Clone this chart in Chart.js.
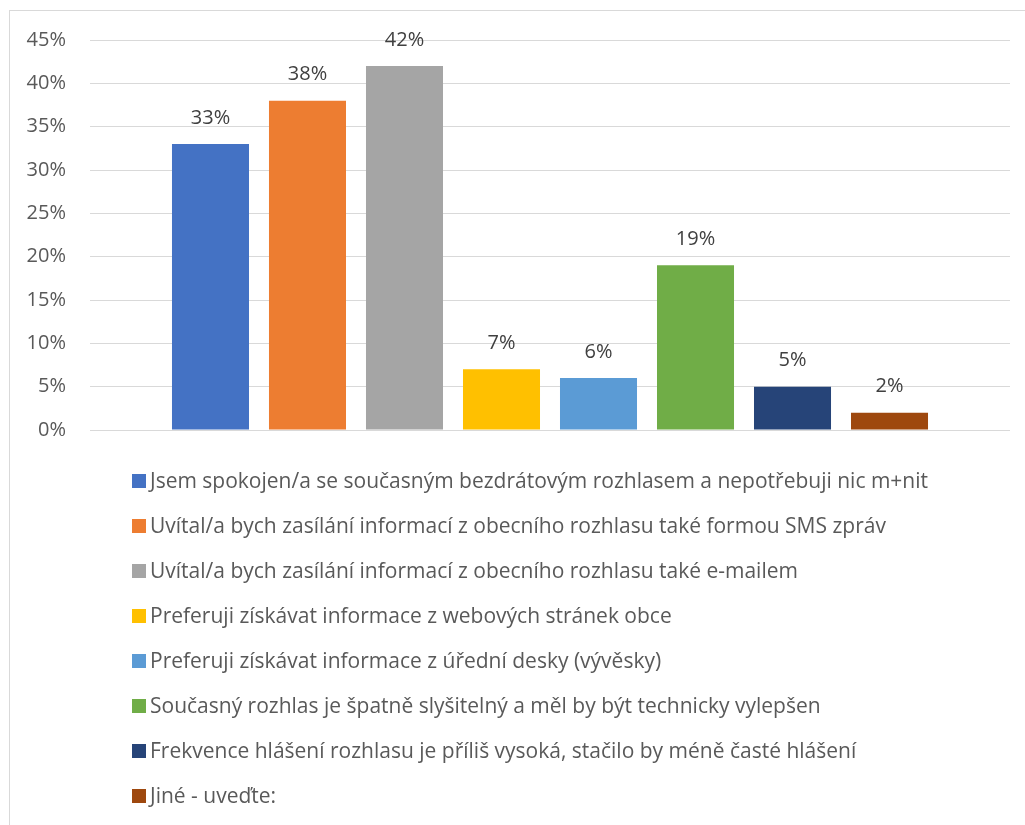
<!DOCTYPE html>
<html>
<head>
<meta charset="utf-8">
<script src="https://cdn.jsdelivr.net/npm/chart.js@4"></script>
<style>
  body { margin: 0; background: #fff; width: 1025px; height: 825px; overflow: hidden; position: relative; }
  #frame { position: absolute; left: 9px; top: 10px; width: 1100px; height: 900px; border: 1px solid #d9d9d9; box-sizing: border-box; }
  #chart { position: absolute; left: 0; top: 0; }
  #legend { position: absolute; left: 132px; top: 458px; font-family: "Open Sans", sans-serif; font-size: 21px; color: #595959; }
  #legend div { height: 45px; line-height: 45px; display: flex; align-items: center; white-space: nowrap; }
  #legend span.box { width: 14px; height: 14px; margin-right: 4px; display: inline-block; }
</style>
</head>
<body>
<div id="frame"></div>
<canvas id="chart" width="1025" height="466"></canvas>
<div id="legend"></div>
<script>
// ---- Daten ----
const labels = [
    'Jsem spokojen/a se současným bezdrátovým rozhlasem a nepotřebuji nic m+nit',
    'Uvítal/a bych zasílání informací z obecního rozhlasu také formou SMS zpráv',
    'Uvítal/a bych zasílání informací z obecního rozhlasu také e-mailem',
    'Preferuji získávat informace z webových stránek obce',
    'Preferuji získávat informace z úřední desky (vývěsky)',
    'Současný rozhlas je špatně slyšitelný a měl by být technicky vylepšen',
    'Frekvence hlášení rozhlasu je příliš vysoká, stačilo by méně časté hlášení',
    'Jiné - uveďte:'
];
const values = [33, 38, 42, 7, 6, 19, 5, 2];
const colors = ['#4472C4', '#ED7D31', '#A5A5A5', '#FFC000', '#5B9BD5', '#70AD47', '#264478', '#9E480E'];
const yTicks = [0, 5, 10, 15, 20, 25, 30, 35, 40, 45];

// ---- Werte über den Balken ----
const valueLabels = {
    id: 'valueLabels',
    afterDatasetsDraw(chart) {
        const ctx = chart.ctx;
        ctx.save();
        ctx.font = '20px "Open Sans", sans-serif';
        ctx.fillStyle = '#404040';
        ctx.textAlign = 'center';
        ctx.textBaseline = 'middle';
        chart.data.datasets.forEach((ds, i) => {
            const bar = chart.getDatasetMeta(i).data[0];
            ctx.fillText(ds.data[0] + '%', bar.x, bar.y - 26);
        });
        ctx.restore();
    }
};

const chart = new Chart(document.getElementById('chart'), {
    type: 'bar',
    data: {
        labels: [''],
        datasets: labels.map((l, i) => ({
            label: l,
            data: [values[i]],
            backgroundColor: colors[i],
            categoryPercentage: 0.8435,
            barPercentage: 0.794
        }))
    },
    options: {
        responsive: false,
        animation: false,
        layout: { padding: { left: 20, right: 15, top: 40, bottom: 0 } },
        plugins: { legend: { display: false }, tooltip: { enabled: false } },
        scales: {
            x: { display: false },
            y: {
                min: 0,
                max: 45,
                afterBuildTicks: s => { s.ticks = yTicks.map(v => ({ value: v })); },
                afterFit: s => { s.width = 70; },
                border: { display: false },
                grid: { color: '#d9d9d9', lineWidth: 1, drawTicks: false },
                ticks: {
                    padding: 24,
                    color: '#595959',
                    font: { family: '"Open Sans", sans-serif', size: 20 },
                    callback: v => v + '%'
                }
            }
        }
    },
    plugins: [valueLabels]
});

// ---- Legende ----
const legend = document.getElementById('legend');
chart.data.datasets.forEach(ds => {
    const row = document.createElement('div');
    const box = document.createElement('span');
    box.className = 'box';
    box.style.background = ds.backgroundColor;
    row.appendChild(box);
    row.appendChild(document.createTextNode(ds.label));
    legend.appendChild(row);
});
</script>
</body>
</html>
